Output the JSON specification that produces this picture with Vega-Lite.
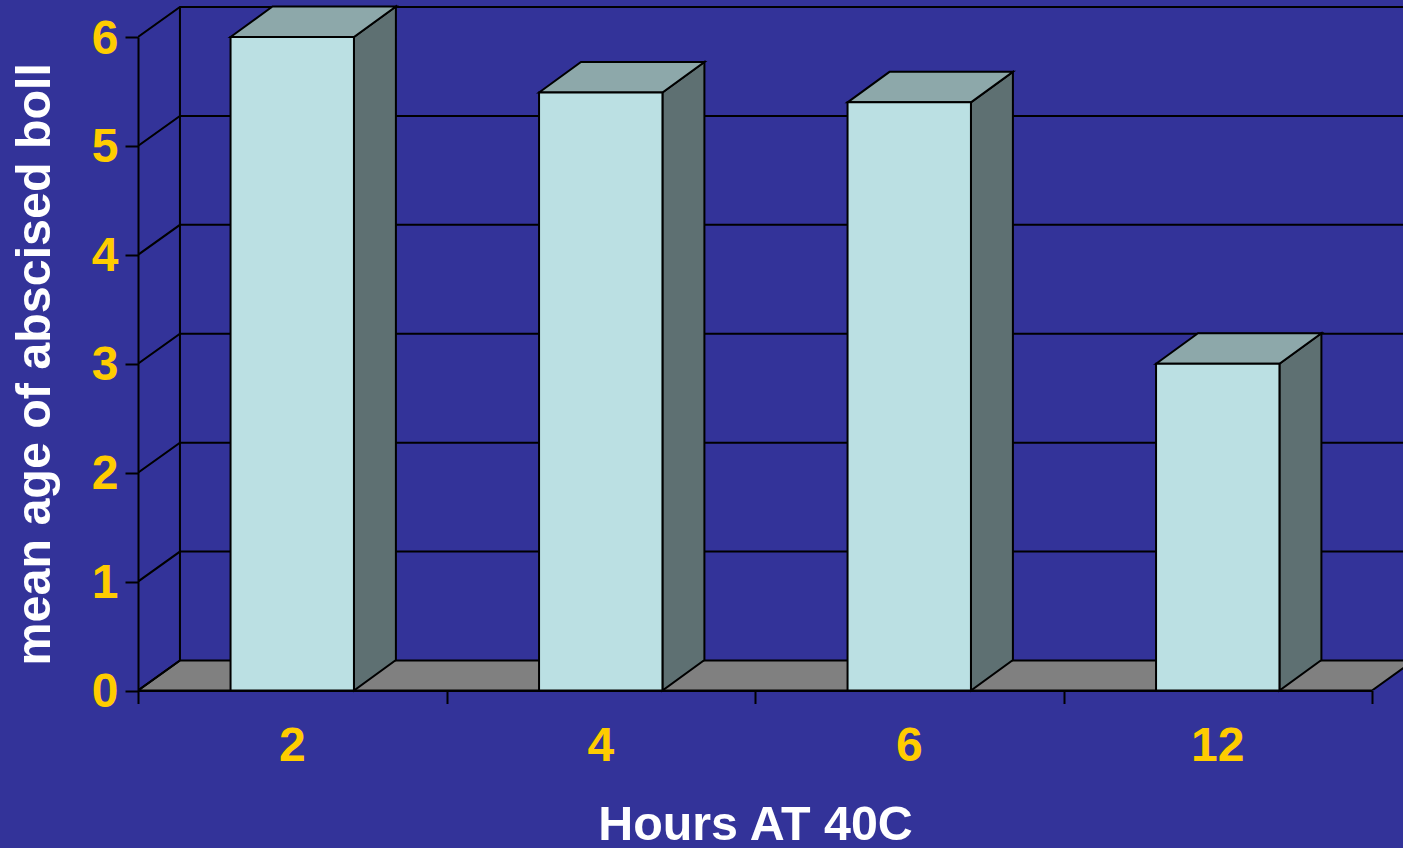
{
"$schema":"https://vega.github.io/schema/vega-lite/v6.json",
"width":1265,"height":690.5,
"autosize":{"type":"none"},
"padding":{"left":138,"top":0,"right":0,"bottom":157.5},
"background":"#333399",
"config":{"view":{"stroke":null},"font":"Liberation Sans"},
"datasets":{
"bars":[{"hours":"2","value":6},{"hours":"4","value":5.49},{"hours":"6","value":5.4},{"hours":"12","value":3}],
"floor":[{"id":"floor","seq":0,"pos":0,"level":0},{"id":"floor","seq":1,"pos":0.136,"level":0.2755},{"id":"floor","seq":2,"pos":4.136,"level":0.2755},{"id":"floor","seq":3,"pos":4,"level":0}],
"grid":[
{"id":"g0","seq":0,"pos":0,"level":0},{"id":"g0","seq":1,"pos":0.136,"level":0.2755},
{"id":"g1","seq":0,"pos":0,"level":1},{"id":"g1","seq":1,"pos":0.136,"level":1.2755},{"id":"g1","seq":2,"pos":4.2,"level":1.2755},
{"id":"g2","seq":0,"pos":0,"level":2},{"id":"g2","seq":1,"pos":0.136,"level":2.2755},{"id":"g2","seq":2,"pos":4.2,"level":2.2755},
{"id":"g3","seq":0,"pos":0,"level":3},{"id":"g3","seq":1,"pos":0.136,"level":3.2755},{"id":"g3","seq":2,"pos":4.2,"level":3.2755},
{"id":"g4","seq":0,"pos":0,"level":4},{"id":"g4","seq":1,"pos":0.136,"level":4.2755},{"id":"g4","seq":2,"pos":4.2,"level":4.2755},
{"id":"g5","seq":0,"pos":0,"level":5},{"id":"g5","seq":1,"pos":0.136,"level":5.2755},{"id":"g5","seq":2,"pos":4.2,"level":5.2755},
{"id":"g6","seq":0,"pos":0,"level":6},{"id":"g6","seq":1,"pos":0.136,"level":6.2755},{"id":"g6","seq":2,"pos":4.2,"level":6.2755},
{"id":"wall","seq":0,"pos":0.136,"level":0.2755},{"id":"wall","seq":1,"pos":0.136,"level":6.2755}
],
"sides":[
{"id":"2","seq":0,"pos":0.7,"level":6},{"id":"2","seq":1,"pos":0.836,"level":6.28},{"id":"2","seq":2,"pos":0.836,"level":0.28},{"id":"2","seq":3,"pos":0.7,"level":0},
{"id":"4","seq":0,"pos":1.7,"level":5.49},{"id":"4","seq":1,"pos":1.836,"level":5.77},{"id":"4","seq":2,"pos":1.836,"level":0.28},{"id":"4","seq":3,"pos":1.7,"level":0},
{"id":"6","seq":0,"pos":2.7,"level":5.4},{"id":"6","seq":1,"pos":2.836,"level":5.68},{"id":"6","seq":2,"pos":2.836,"level":0.28},{"id":"6","seq":3,"pos":2.7,"level":0},
{"id":"12","seq":0,"pos":3.7,"level":3},{"id":"12","seq":1,"pos":3.836,"level":3.28},{"id":"12","seq":2,"pos":3.836,"level":0.28},{"id":"12","seq":3,"pos":3.7,"level":0}
],
"tops":[
{"id":"2","seq":0,"pos":0.3,"level":6},{"id":"2","seq":1,"pos":0.436,"level":6.28},{"id":"2","seq":2,"pos":0.836,"level":6.28},{"id":"2","seq":3,"pos":0.7,"level":6},
{"id":"4","seq":0,"pos":1.3,"level":5.49},{"id":"4","seq":1,"pos":1.436,"level":5.77},{"id":"4","seq":2,"pos":1.836,"level":5.77},{"id":"4","seq":3,"pos":1.7,"level":5.49},
{"id":"6","seq":0,"pos":2.3,"level":5.4},{"id":"6","seq":1,"pos":2.436,"level":5.68},{"id":"6","seq":2,"pos":2.836,"level":5.68},{"id":"6","seq":3,"pos":2.7,"level":5.4},
{"id":"12","seq":0,"pos":3.3,"level":3},{"id":"12","seq":1,"pos":3.436,"level":3.28},{"id":"12","seq":2,"pos":3.836,"level":3.28},{"id":"12","seq":3,"pos":3.7,"level":3}
]
},
"resolve":{"scale":{"x":"independent"},"axis":{"x":"independent"}},
"layer":[
{"data":{"name":"floor"},
 "mark":{"type":"line","interpolate":"linear-closed","fill":"#808080","stroke":"#000000","strokeWidth":2,"clip":true},
 "encoding":{
  "x":{"field":"pos","type":"quantitative","scale":{"domain":[0,4],"range":[0,1234],"nice":false,"zero":false},
   "axis":{"orient":"bottom","values":[0,1,2,3,4],"labels":false,"title":null,"grid":false,"domain":true,"ticks":true,"domainColor":"#000000","domainWidth":2,"tickColor":"#000000","tickWidth":2,"tickSize":13,"zindex":1}},
  "y":{"field":"level","type":"quantitative","scale":{"domain":[0,6],"range":[690.5,37],"nice":false,"zero":false},
   "axis":{"values":[0,1,2,3,4,5,6],"format":"d","grid":false,"title":"mean age of abscised boll","titleColor":"#FFFFFF","titleFont":"Liberation Sans","titleFontSize":48.4,"titleFontWeight":"bold","titlePadding":32,"labelColor":"#FFCC00","labelFont":"Liberation Sans","labelFontSize":48,"labelFontWeight":"bold","labelPadding":7,"labelOffset":2,"domainColor":"#000000","domainWidth":2,"tickColor":"#000000","tickWidth":2,"tickSize":13,"zindex":1}},
  "detail":{"field":"id"},"order":{"field":"seq","type":"quantitative"}}},
{"layer":[
{"data":{"name":"grid"},
 "mark":{"type":"line","stroke":"#000000","strokeWidth":2,"clip":true},
 "encoding":{
  "x":{"field":"pos","type":"quantitative","scale":{"domain":[0,4],"range":[0,1234],"nice":false,"zero":false},"axis":null},
  "y":{"field":"level","type":"quantitative"},
  "detail":{"field":"id"},"order":{"field":"seq","type":"quantitative"}}},
{"data":{"name":"sides"},
 "mark":{"type":"line","interpolate":"linear-closed","fill":"#5E7072","stroke":"#000000","strokeWidth":2},
 "encoding":{
  "x":{"field":"pos","type":"quantitative","axis":null},
  "y":{"field":"level","type":"quantitative"},
  "detail":{"field":"id"},"order":{"field":"seq","type":"quantitative"}}},
{"data":{"name":"tops"},
 "mark":{"type":"line","interpolate":"linear-closed","fill":"#8DA8AA","stroke":"#000000","strokeWidth":2},
 "encoding":{
  "x":{"field":"pos","type":"quantitative","axis":null},
  "y":{"field":"level","type":"quantitative"},
  "detail":{"field":"id"},"order":{"field":"seq","type":"quantitative"}}}
]},
{"data":{"name":"bars"},
 "mark":{"type":"bar","fill":"#BBE0E3","stroke":"#000000","strokeWidth":2},
 "encoding":{
  "x":{"field":"hours","type":"ordinal","sort":["2","4","6","12"],"scale":{"domain":["2","4","6","12"],"range":[0,1234],"paddingInner":0.6,"paddingOuter":0.3},
   "axis":{"orient":"bottom","title":"Hours AT 40C","titleColor":"#FFFFFF","titleFont":"Liberation Sans","titleFontSize":48.4,"titleFontWeight":"bold","titlePadding":31,"labelColor":"#FFCC00","labelFont":"Liberation Sans","labelFontSize":48,"labelFontWeight":"bold","labelAngle":0,"labelPadding":32,"ticks":false,"domain":false,"grid":false}},
  "y":{"field":"value","type":"quantitative"}}}
]}
